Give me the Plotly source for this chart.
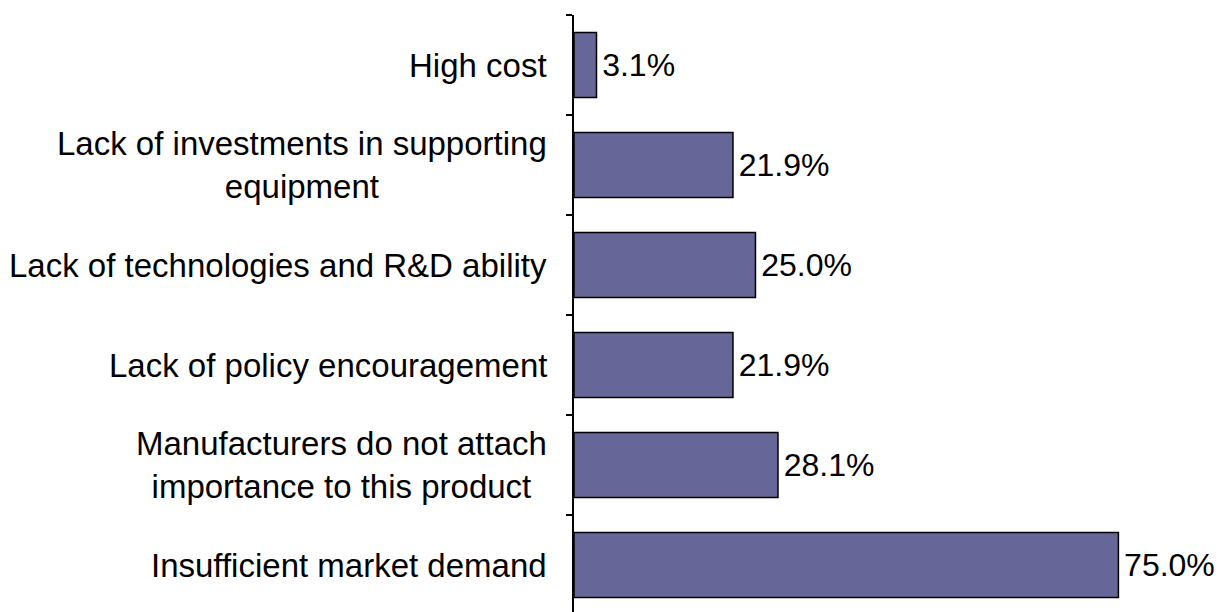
import plotly.graph_objects as go

categories = [
    "High cost",
    "Lack of investments in supporting<br>equipment",
    "Lack of technologies and R&D ability",
    "Lack of policy encouragement",
    "Manufacturers do not attach<br>importance to this product",
    "Insufficient market demand",
]
values = [3.1, 21.9, 25.0, 21.9, 28.1, 75.0]

FONT = "Liberation Sans, Arial, sans-serif"
FS = 33

fig = go.Figure()
fig.add_trace(go.Bar(
    x=values,
    y=categories,
    orientation="h",
    width=0.65,
    marker=dict(color="#666699", line=dict(color="#000000", width=1.5)),
    texttemplate="\u200a%{x:.1f}%",
    textposition="outside",
    textfont=dict(family=FONT, size=32, color="#000000"),
    cliponaxis=False,
))

for c in categories:
    fig.add_annotation(
        x=0, y=c, xref="x", yref="y", text=c, showarrow=False,
        xanchor="right", yanchor="middle", align="center", xshift=-25,
        font=dict(family=FONT, size=FS, color="#000000"),
    )

fig.update_layout(
    width=1225, height=612,
    margin=dict(l=566, r=42, t=7, b=5),
    paper_bgcolor="#ffffff", plot_bgcolor="#ffffff",
    showlegend=False,
    font=dict(family=FONT, size=FS, color="#000000"),
    uniformtext=dict(minsize=32, mode="show"),
)
fig.update_xaxes(
    range=[0, 85], visible=False, showgrid=False, zeroline=False,
)
fig.update_yaxes(
    type="category",
    categoryorder="array", categoryarray=categories,
    range=[5.5, -0.5],
    showline=True, linecolor="#000000", linewidth=1.5,
    ticks="outside", ticklen=6, tickcolor="#000000", tickwidth=1.5,
    tickson="boundaries",
    showticklabels=False, showgrid=False, zeroline=False,
    automargin=False,
)

fig.write_html("out.html")
